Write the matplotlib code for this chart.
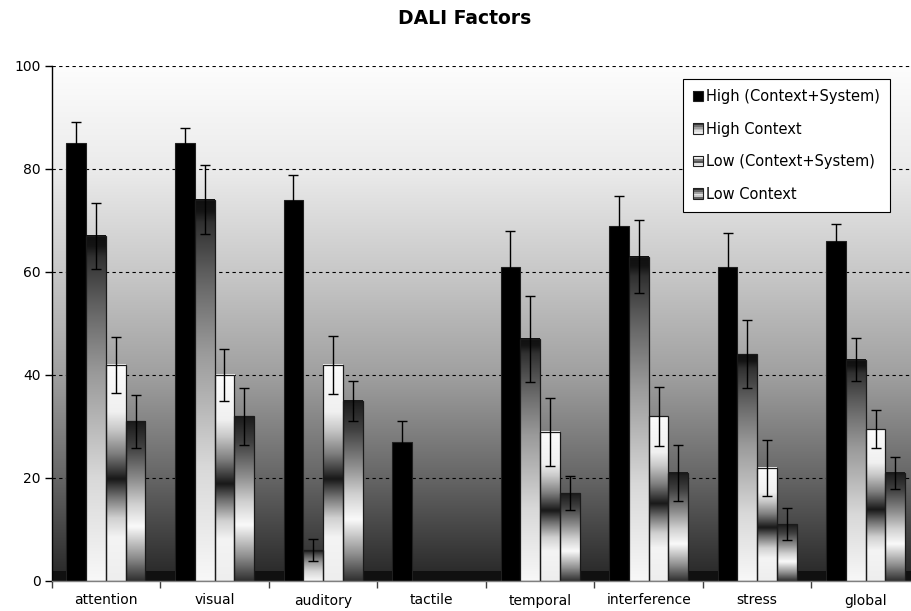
import matplotlib
matplotlib.use('Agg')
import matplotlib.pyplot as plt
import matplotlib.patches as mpatches
from matplotlib.colors import LinearSegmentedColormap
from matplotlib.legend_handler import HandlerBase
import numpy as np

categories = ['attention', 'visual', 'auditory', 'tactile', 'temporal',
              'interference', 'stress', 'global']
series_names = ['High (Context+System)', 'High Context',
                'Low (Context+System)', 'Low Context']

high_cs = [85, 85, 74, 27, 61, 69, 61, 66]
high_cs_err = [4.2, 2.9, 4.8, 4.0, 7.0, 5.8, 6.6, 3.4]
high_ctx = [67, 74, 6, 0, 47, 63, 44, 43]
high_ctx_err = [6.4, 6.7, 2.1, 0, 8.3, 7.0, 6.6, 4.1]
low_cs = [42, 40, 42, 0, 29, 32, 22, 29.5]
low_cs_err = [5.4, 5.0, 5.6, 0, 6.6, 5.7, 5.4, 3.7]
low_ctx = [31, 32, 35, 0, 17, 21, 11, 21]
low_ctx_err = [5.1, 5.5, 3.9, 0, 3.3, 5.4, 3.1, 3.1]

values = [high_cs, high_ctx, low_cs, low_ctx]
errors = [high_cs_err, high_ctx_err, low_cs_err, low_ctx_err]


def grey_map(name, stops):
    return LinearSegmentedColormap.from_list(name, stops)


# 0 = bottom of bar, 1 = top of bar
cmaps = [
    grey_map('hcs', [(0, '#000000'), (1, '#000000')]),
    grey_map('hc', [(0, '#f8f8f8'), (0.3, '#d8d8d8'), (0.6, '#9a9a9a'),
                    (0.75, '#707070'), (0.82, '#5a5a5a'), (0.94, '#303030'),
                    (0.97, '#141414'), (1, '#101010')]),
    grey_map('lcs', [(0, '#eeeeee'), (0.2, '#f4f4f4'), (0.29, '#d0d0d0'),
                     (0.39, '#707070'), (0.47, '#181818'), (0.59, '#808080'),
                     (0.70, '#c8c8c8'), (0.78, '#f0f0f0'), (1, '#fcfcfc')]),
    grey_map('lc', [(0, '#303030'), (0.15, '#909090'), (0.34, '#fafafa'),
                    (0.48, '#d0d0d0'), (0.63, '#909090'), (0.84, '#404040'),
                    (1, '#1a1a1a')]),
]
bg_map = grey_map('bg', [(0, '#262626'), (0.2, '#666666'), (0.4, '#a0a0a0'),
                         (0.6, '#c8c8c8'), (0.8, '#ebebeb'), (1, '#fdfdfd')])

grad = np.linspace(0, 1, 256).reshape(-1, 1)


class GradientHandler(HandlerBase):
    def __init__(self, cmap):
        super().__init__()
        self.cmap = cmap

    def create_artists(self, legend, orig_handle, xdescent, ydescent,
                       width, height, fontsize, trans):
        artists = []
        n = 6
        x0, y0 = -xdescent, -ydescent
        for k in range(n):
            c = self.cmap((k + 0.5) / n)
            r = mpatches.Rectangle((x0, y0 + k * height / n), width, height / n,
                                   facecolor=c, edgecolor='none', transform=trans)
            artists.append(r)
        artists.append(mpatches.Rectangle((x0, y0), width, height, facecolor='none',
                                          edgecolor='#202020', lw=0.8, transform=trans))
        return artists


plt.rcParams['font.family'] = ['DejaVu Sans']
plt.rcParams['font.size'] = 10

fig = plt.figure(figsize=(9.11, 6.11), dpi=100)
ax = fig.add_axes([51.7 / 911, 1 - 581 / 611, (920 - 51.7) / 911, (581 - 66) / 611])

n_cat = len(categories)
ax.imshow(grad, extent=(0, n_cat, 0, 100), origin='lower', cmap=bg_map,
          aspect='auto', zorder=0, interpolation='bicubic')
# dark floor strip
ax.add_patch(mpatches.Rectangle((0, 0), n_cat, 2, facecolor='#101010',
                                edgecolor='none', zorder=0.5))

for yv in [20, 40, 60, 80, 100]:
    ax.axhline(yv, color='black', lw=0.8, ls=(0, (3, 3)), zorder=1)

width = 0.182
start = 0.5 - 2 * width
x = np.arange(n_cat)

for j in range(4):
    lefts = x + start + j * width
    for i in range(n_cat):
        h = values[j][i]
        if h <= 0:
            continue
        x0 = lefts[i]
        if j == 0:
            ax.add_patch(mpatches.Rectangle((x0, 0), width, h, facecolor='black',
                                            edgecolor='#202020', lw=0.8, zorder=2))
        else:
            ax.imshow(grad, extent=(x0, x0 + width, 0, h), origin='lower',
                      cmap=cmaps[j], aspect='auto', zorder=2,
                      interpolation='bicubic')
            ax.add_patch(mpatches.Rectangle((x0, 0), width, h, facecolor='none',
                                            edgecolor='#1a1a1a', lw=0.9, zorder=2.5))
    centers = lefts + width / 2
    vals = np.array(values[j], dtype=float)
    errs = np.array(errors[j], dtype=float)
    mask = vals > 0
    ax.errorbar(centers[mask], vals[mask], yerr=errs[mask], fmt='none',
                ecolor='black', elinewidth=1, capsize=3.6, capthick=1, zorder=3)

ax.set_xlim(0, n_cat)
ax.set_ylim(0, 100)

ax.set_xticks(np.arange(n_cat + 1))
ax.set_xticklabels([])
ax.set_xticks(x + 0.5, minor=True)
ax.set_xticklabels(categories, minor=True)
ax.tick_params(axis='x', which='major', length=5, width=1, color='#404040',
               direction='out')
ax.tick_params(axis='x', which='minor', length=0, pad=9)
ax.set_yticks([0, 20, 40, 60, 80, 100])
ax.tick_params(axis='y', length=5, width=1, direction='out', pad=3)

for s in ['top', 'right']:
    ax.spines[s].set_visible(False)
ax.spines['left'].set_color('black')
ax.spines['left'].set_linewidth(1)
ax.spines['bottom'].set_color('#808080')
ax.spines['bottom'].set_linewidth(1)

fig.text(465 / 911, 1 - 18 / 611, 'DALI Factors', ha='center', va='center',
         fontsize=13.5, fontweight='bold')

handles = [mpatches.Patch(label=name) for name in series_names]
hmap = {h: GradientHandler(cm) for h, cm in zip(handles, cmaps)}
leg = fig.legend(handles=handles, handler_map=hmap, loc='upper left',
                 bbox_to_anchor=(683 / 911, 1 - 79 / 611), borderaxespad=0,
                 fancybox=False, shadow=False, framealpha=1, edgecolor='black',
                 handlelength=0.7, handleheight=0.7, handletextpad=0.2,
                 labelspacing=1.2, borderpad=0.7, fontsize=10.5)
leg.get_frame().set_linewidth(0.8)

fig.savefig('out.png', dpi=100)
